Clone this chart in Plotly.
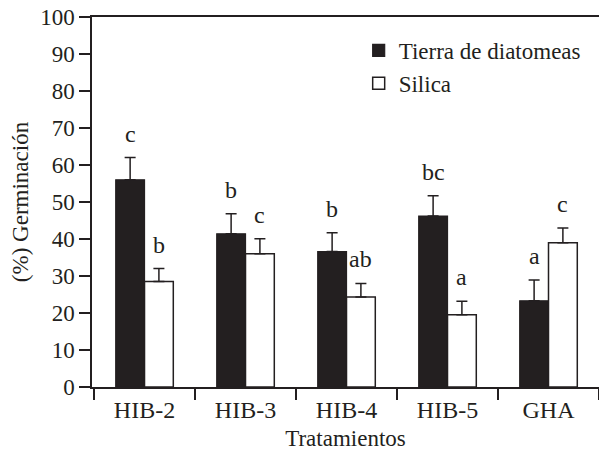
import plotly.graph_objects as go

categories = ["HIB-2", "HIB-3", "HIB-4", "HIB-5", "GHA"]
tierra = [56, 41.4, 36.6, 46.2, 23.3]
tierra_err = [6, 5.4, 5.1, 5.5, 5.6]
tierra_letters = ["c", "b", "b", "bc", "a"]
silica = [28.5, 36.0, 24.3, 19.5, 39.0]
silica_err = [3.5, 4.1, 3.7, 3.7, 4.0]
silica_letters = ["b", "c", "ab", "a", "c"]
yticks = [0, 10, 20, 30, 40, 50, 60, 70, 80, 90, 100]

FONT = "Liberation Serif"
W, H = 599, 460
ML, MR, MT, MB = 92, 0, 17, 73
bargap = 0.43

fig = go.Figure()
fig.add_trace(go.Bar(
    x=categories, y=tierra, name="Tierra de diatomeas",
    marker=dict(color="#231f20", line=dict(color="#231f20", width=1.2)),
    error_y=dict(type="data", symmetric=False, array=tierra_err,
                 arrayminus=[0] * len(tierra_err), color="#231f20",
                 thickness=1.5, width=5.5),
))
fig.add_trace(go.Bar(
    x=categories, y=silica, name="Silica",
    marker=dict(color="white", line=dict(color="#231f20", width=1.5)),
    error_y=dict(type="data", symmetric=False, array=silica_err,
                 arrayminus=[0] * len(silica_err), color="#231f20",
                 thickness=1.5, width=5.5),
))

# letter annotations above error bars
bar_w = (1 - bargap) / 2
for i in range(len(categories)):
    for vals, errs, labs, sign in ((tierra, tierra_err, tierra_letters, -1),
                                   (silica, silica_err, silica_letters, 1)):
        fig.add_annotation(
            x=i + sign * bar_w / 2, y=vals[i] + errs[i], xref="x", yref="y",
            text=labs[i], showarrow=False, yanchor="bottom", yshift=9,
            font=dict(family=FONT, size=24, color="#231f20"),
        )

fig.update_layout(
    width=W, height=H,
    margin=dict(l=ML, r=MR, t=MT, b=MB, autoexpand=False),
    plot_bgcolor="white", paper_bgcolor="white",
    barmode="group", bargap=bargap, bargroupgap=0,
    font=dict(family=FONT, size=23, color="#231f20"),
    showlegend=True,
    legend=dict(x=0.526, y=0.968, xanchor="left", yanchor="top",
                bgcolor="rgba(0,0,0,0)", font=dict(family=FONT, size=23),
                tracegroupgap=0, itemwidth=30),
)
fig.update_xaxes(
    type="category", range=[-0.52, 4.5], automargin=False,
    showline=True, linecolor="#231f20", linewidth=1.5, mirror=True,
    ticks="outside", tickson="boundaries", ticklen=11, tickwidth=1.5,
    tickcolor="#231f20", showgrid=False, zeroline=False,
    tickfont=dict(family=FONT, size=24),
    title=dict(text="Tratamientos", font=dict(family=FONT, size=23), standoff=8),
)
fig.update_yaxes(
    range=[0, 100], tickvals=yticks, automargin=False,
    showline=True, linecolor="#231f20", linewidth=1.5,
    ticks="outside", ticklen=11, tickwidth=1.5, tickcolor="#231f20",
    showgrid=False, zeroline=False,
    tickfont=dict(family=FONT, size=23),
    title=dict(text="(%) Germinación", font=dict(family=FONT, size=23), standoff=5),
)

fig.write_html("out.html", config={"displayModeBar": False},
               post_script="document.body.style.margin='0px';")
